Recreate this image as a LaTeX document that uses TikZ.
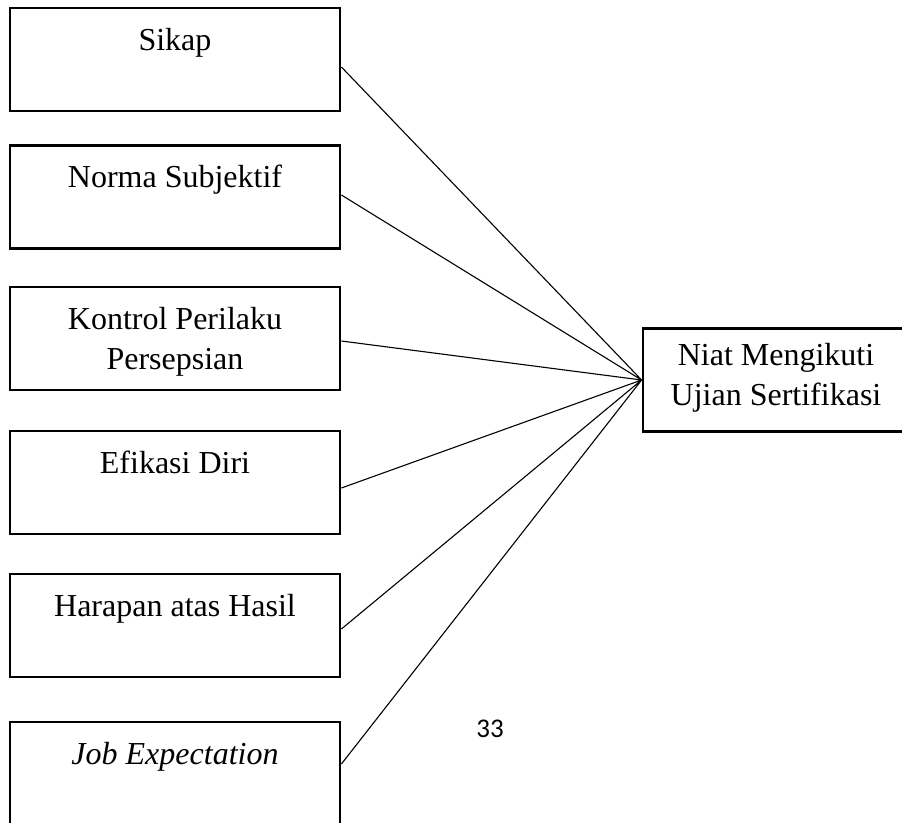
\documentclass[tikz,border=0pt]{standalone}
\usepackage{fontspec}
\setmainfont{Liberation Serif}
\newfontfamily\pagefont{Carlito}
\usetikzlibrary{%
  positioning
 ,calc
}
\tikzstyle{model}=[x=1pt,y=-1pt,on grid,line width=1.1pt]
\tikzstyle{var}=[rectangle,draw=black,line width=2.8pt,minimum width=330pt,minimum height=103pt,inner sep=0pt,text height=42pt,text depth=61pt,align=center,font=\fontsize{32}{40}\selectfont]
\tikzstyle{twoline}=[text height=82pt,text depth=21pt]
\tikzstyle{dep}=[var,minimum width=266pt,text height=77pt,text depth=26pt]

\begin{document}
\begin{tikzpicture}[model]
  \useasboundingbox (0,0) rectangle (902,822);
  \node[var] (sikap) at (175,59.5) {Sikap};
  \node[var] (norma) [below=137.5pt of sikap] {Norma Subjektif};
  \node[var,twoline] (kontrol) [below=141.5pt of norma] {Kontrol Perilaku\\Persepsian};
  \node[var] (efikasi) [below=144pt of kontrol] {Efikasi Diri};
  \node[var] (harapan) [below=143pt of efikasi] {Harapan atas Hasil};
  \node[var] (job) [below=148pt of harapan] {\textit{Job Expectation}};
  % \node[dep] (niat) [right of=kontrol] {};
  \node[dep] (niat) at (776,380) {Niat Mengikuti\\Ujian Sertifikasi};
  \node[font=\pagefont\fontsize{27}{30}\selectfont,anchor=base] (hal) at (490,737) {33};
%
  \draw
  ([yshift=-7.5pt]sikap.east) -- (niat.west)
  ([yshift=2pt]norma.east) -- (niat.west)
  ([yshift=-2.5pt]kontrol.east) -- (niat.west)
  ([yshift=-5.5pt]efikasi.east) -- (niat.west)
  ([yshift=-3.5pt]harapan.east) -- (niat.west)
  ([yshift=9.5pt]job.east) -- (niat.west);
\end{tikzpicture}
\end{document}
